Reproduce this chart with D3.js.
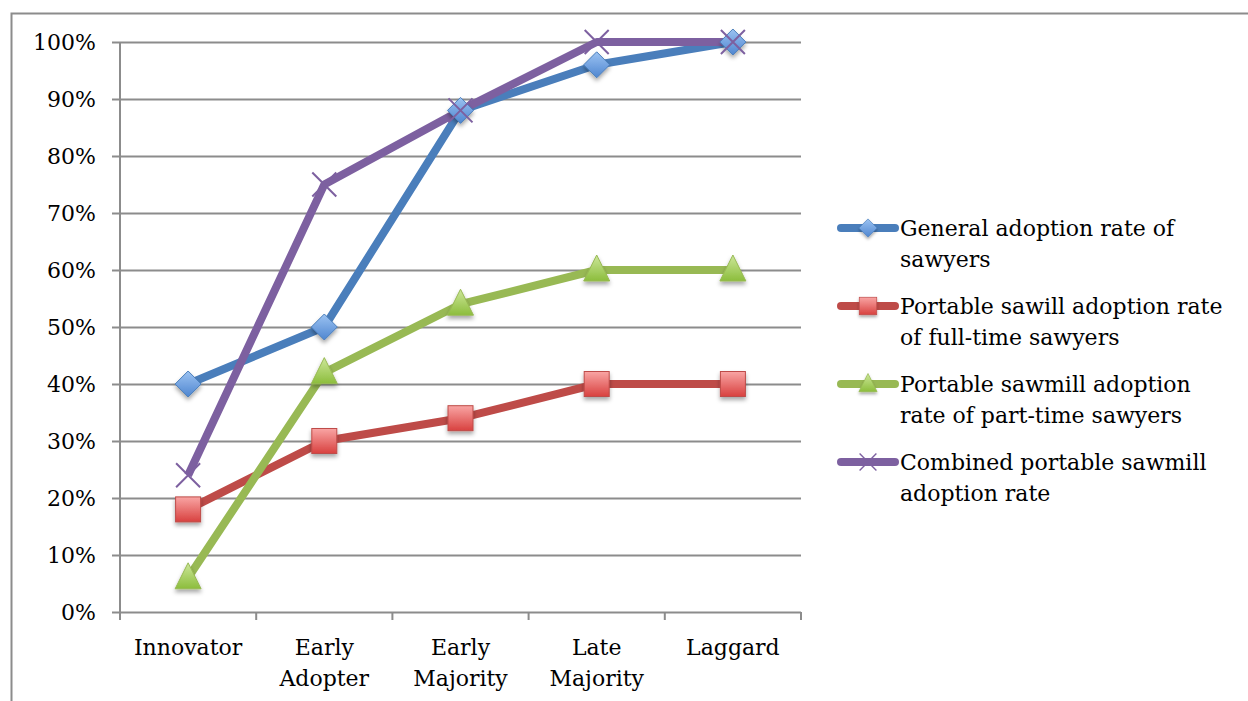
<!DOCTYPE html>
<html lang="en">
<head>
    <meta charset="UTF-8">
    <title>Sawmill Adoption Rates</title>
    <script src="https://d3js.org/d3.v7.min.js"></script>
    <style>
        body { margin: 0; background: #fff; }
        text { font-family: "DejaVu Serif", serif; fill: #000; }
    </style>
</head>
<body>
    <div id="chart"></div>
    <script>
        // Data
        const categories = [["Innovator"], ["Early", "Adopter"], ["Early", "Majority"], ["Late", "Majority"], ["Laggard"]];
        const generalRate = [40, 50, 88, 96, 100];
        const fullTimeRate = [18, 30, 34, 40, 40];
        const partTimeRate = [6, 42, 54, 60, 60];
        const combinedRate = [24, 75, 88, 100, 100];
        const yTicks = [0, 10, 20, 30, 40, 50, 60, 70, 80, 90, 100];

        const series = [
            { name: ["General adoption rate of", "sawyers"], values: generalRate, color: "#4a7ebb", marker: "diamond", light: "#9cc3f2", dark: "#4f86d0" },
            { name: ["Portable sawill adoption rate", "of full-time sawyers"], values: fullTimeRate, color: "#be4b48", marker: "square", light: "#f9a5a4", dark: "#d8413f" },
            { name: ["Portable sawmill adoption", "rate of part-time sawyers"], values: partTimeRate, color: "#98b954", marker: "triangle", light: "#cde79a", dark: "#8cbd3c" },
            { name: ["Combined portable sawmill", "adoption rate"], values: combinedRate, color: "#7d60a0", marker: "cross" }
        ];

        const width = 1248, height = 701;
        const margin = { top: 42, right: 447, bottom: 89, left: 120 };

        const svg = d3.select("#chart").append("svg")
            .attr("width", width)
            .attr("height", height);

        const defs = svg.append("defs");
        const shadow = defs.append("filter").attr("id", "shadow")
            .attr("x", "-50%").attr("y", "-50%").attr("width", "200%").attr("height", "200%");
        shadow.append("feDropShadow")
            .attr("dx", 0).attr("dy", 3).attr("stdDeviation", 2)
            .attr("flood-color", "#000").attr("flood-opacity", 0.35);

        series.forEach((s, i) => {
            if (!s.light) return;
            const g = defs.append("linearGradient").attr("id", "grad" + i)
                .attr("x1", 0).attr("y1", 0).attr("x2", 0).attr("y2", 1);
            g.append("stop").attr("offset", "0%").attr("stop-color", s.light);
            g.append("stop").attr("offset", "100%").attr("stop-color", s.dark);
        });

        // outer frame
        svg.append("rect")
            .attr("x", 11.5).attr("y", 13.5)
            .attr("width", 1300).attr("height", 800)
            .attr("fill", "none").attr("stroke", "#8c8c8c").attr("stroke-width", 2);

        const x = d3.scaleBand()
            .domain(d3.range(categories.length))
            .range([margin.left, width - margin.right]);

        const y = d3.scaleLinear()
            .domain([0, 100])
            .range([height - margin.bottom, margin.top]);

        // gridlines and y labels
        const yAxis = svg.append("g")
            .attr("transform", `translate(${margin.left},0)`)
            .call(d3.axisLeft(y).tickValues(yTicks).tickFormat(d => d + "%")
                .tickSize(-(width - margin.right - margin.left)).tickPadding(24));
        yAxis.select(".domain").remove();
        yAxis.selectAll(".tick line").attr("stroke", "#8c8c8c").attr("stroke-width", 2).attr("x1", -8);
        yAxis.selectAll(".tick text").attr("font-size", 22).attr("font-family", "DejaVu Serif");

        // y axis line
        svg.append("line")
            .attr("x1", margin.left).attr("x2", margin.left)
            .attr("y1", margin.top).attr("y2", height - margin.bottom + 8)
            .attr("stroke", "#8c8c8c").attr("stroke-width", 2);

        // x axis ticks at band edges
        const edges = d3.range(categories.length + 1).map(i => margin.left + i * x.step());
        svg.append("g").selectAll("line").data(edges).join("line")
            .attr("x1", d => d).attr("x2", d => d)
            .attr("y1", y(0)).attr("y2", y(0) + 8)
            .attr("stroke", "#8c8c8c").attr("stroke-width", 2);

        // x labels
        svg.append("g").selectAll("text").data(categories).join("text")
            .attr("x", (d, i) => x(i) + x.bandwidth() / 2)
            .attr("y", y(0) + 43)
            .attr("text-anchor", "middle")
            .attr("font-size", 22)
            .selectAll("tspan").data(d => d).join("tspan")
            .attr("x", function () { return this.parentNode.getAttribute("x"); })
            .attr("dy", (d, j) => j === 0 ? 0 : 31)
            .text(d => d);

        const cx = i => x(i) + x.bandwidth() / 2;
        const line = d3.line().x((d, i) => cx(i)).y(d => y(d));

        function drawMarker(g, s, i, px, py) {
            if (s.marker === "diamond") {
                g.append("path").attr("d", `M${px},${py - 13}L${px + 13},${py}L${px},${py + 13}L${px - 13},${py}Z`)
                    .attr("fill", `url(#grad${i})`).attr("stroke", "#4a7ebb").attr("stroke-width", 1)
                    .attr("filter", "url(#shadow)");
            } else if (s.marker === "square") {
                g.append("rect").attr("x", px - 12.5).attr("y", py - 12.5).attr("width", 25).attr("height", 25)
                    .attr("fill", `url(#grad${i})`).attr("stroke", "#be4b48").attr("stroke-width", 1)
                    .attr("filter", "url(#shadow)");
            } else if (s.marker === "triangle") {
                g.append("path").attr("d", `M${px},${py - 15}L${px + 13},${py + 11}L${px - 13},${py + 11}Z`)
                    .attr("fill", `url(#grad${i})`).attr("stroke", "#98b954").attr("stroke-width", 1)
                    .attr("filter", "url(#shadow)");
            } else {
                g.append("path").attr("d", `M${px - 12},${py - 12}L${px + 12},${py + 12}M${px + 12},${py - 12}L${px - 12},${py + 12}`)
                    .attr("stroke", s.color).attr("stroke-width", 2).attr("fill", "none");
            }
        }

        // lines
        series.forEach(s => {
            svg.append("path")
                .datum(s.values)
                .attr("fill", "none")
                .attr("stroke", s.color)
                .attr("stroke-width", 8)
                .attr("stroke-linejoin", "round")
                .attr("d", line);
        });

        // markers drawn per series
        series.forEach((s, i) => {
            const g = svg.append("g");
            s.values.forEach((v, j) => drawMarker(g, s, i, cx(j), y(v)));
        });

        // legend
        const legendY = [228, 306, 384, 462];
        series.forEach((s, i) => {
            const g = svg.append("g");
            g.append("line")
                .attr("x1", 841).attr("x2", 895)
                .attr("y1", legendY[i]).attr("y2", legendY[i])
                .attr("stroke", s.color).attr("stroke-width", 8).attr("stroke-linecap", "round");
            const m = g.append("g").attr("transform", "scale(0.7)");
            drawMarker(m, s, i, 868 / 0.7, legendY[i] / 0.7);
            const t = g.append("text").attr("x", 900).attr("y", legendY[i] + 8).attr("font-size", 22);
            t.selectAll("tspan").data(s.name).join("tspan")
                .attr("x", 900).attr("dy", (d, j) => j === 0 ? 0 : 31)
                .text(d => d);
        });
    </script>
</body>
</html>
